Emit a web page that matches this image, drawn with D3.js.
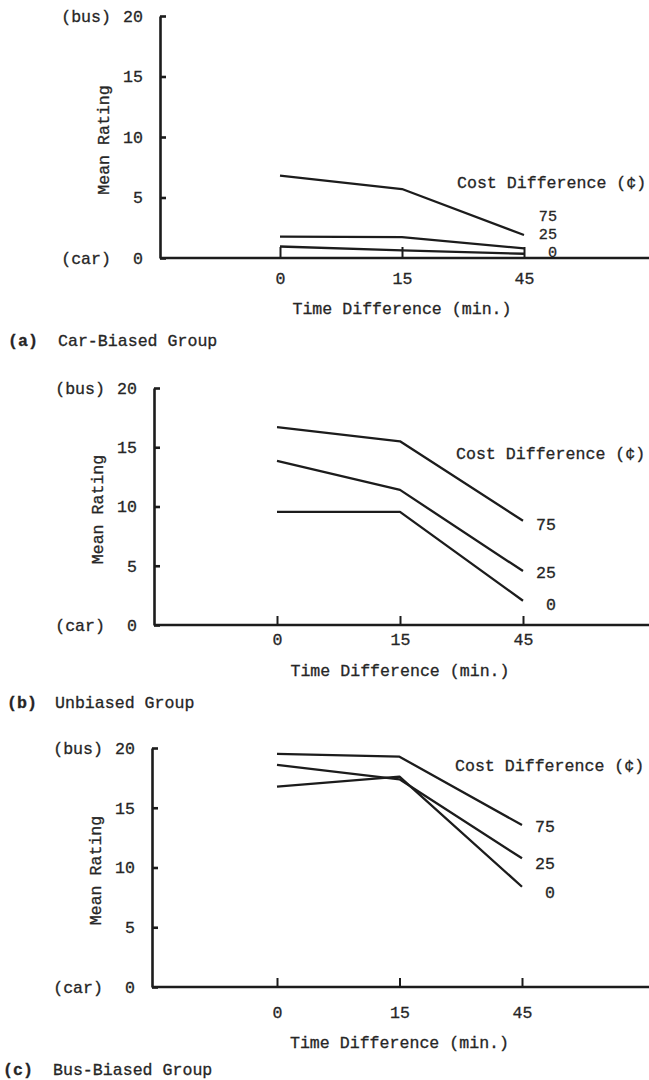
<!DOCTYPE html>
<html>
<head>
<meta charset="utf-8">
<script src="https://cdn.jsdelivr.net/npm/d3@7/dist/d3.min.js"></script>
<style>
  html, body { margin: 0; padding: 0; background: #fff; }
  svg { display: block; }
  text { font-family: "Liberation Mono", "Courier New", monospace; fill: #262626; stroke: #262626; stroke-width: 0.3px; }
</style>
</head>
<body>
<svg id="chart" width="649" height="1080"></svg>
<script>
// ---- data ----
const timeCategories = ["0", "15", "45"];
const costLevels = ["75", "25", "0"];
const yTicks = [0, 5, 10, 15, 20];

const carBiased75 = [6.8, 5.7, 1.9];
const carBiased25 = [1.76, 1.72, 0.8];
const carBiased0  = [0.95, 0.63, 0.35];

const unbiased75 = [16.7, 15.5, 8.8];
const unbiased25 = [13.85, 11.4, 4.55];
const unbiased0  = [9.55, 9.55, 2.05];

const busBiased75 = [19.5, 19.27, 13.55];
const busBiased25 = [18.58, 17.38, 10.77];
const busBiased0  = [16.76, 17.6, 8.39];

const panelLetters = ["(a)", "(b)", "(c)"];
const panelTitles = ["Car-Biased Group", "Unbiased Group", "Bus-Biased Group"];
const yAxisTitle = "Mean Rating";
const xAxisTitle = "Time Difference (min.)";
const legendTitle = "Cost Difference (\u00a2)";
const yEndLabels = ["(bus)", "(car)"];

// ---- layout (positions / styles only) ----
const W = 649;
const panels = [
  { series: [carBiased75, carBiased25, carBiased0], labelVals: [3.5, 1.98, 0.5], labelFS: 15.2, legendVal: 6.28,
    axisX: 160, y0: 258, y20: 16, x0: 280, x45: 524, tickLen: 11, xLabDy: 20, xTitleDy: 50, titleY: 340, letterX: 8, titleX: 58 },
  { series: [unbiased75, unbiased25, unbiased0], labelVals: [8.5, 4.45, 1.77], labelFS: 16.6, legendVal: 14.5,
    axisX: 154, y0: 625, y20: 388, x0: 277, x45: 523, tickLen: 9, xLabDy: 14, xTitleDy: 45, titleY: 702, letterX: 7, titleX: 55 },
  { series: [busBiased75, busBiased25, busBiased0], labelVals: [13.47, 10.38, 7.95], labelFS: 16.6, legendVal: 18.6,
    axisX: 152, y0: 987, y20: 748, x0: 277, x45: 522, tickLen: 9, xLabDy: 25, xTitleDy: 55, titleY: 1069, letterX: 3, titleX: 53 }
];

const FS = 16.6;
const ink = "#1c1c1c";
const svg = d3.select("#chart");

panels.forEach((p, i) => {
  const g = svg.append("g");
  const y = d3.scaleLinear().domain([0, 20]).range([p.y0, p.y20]);
  const x = d3.scalePoint().domain(timeCategories).range([p.x0, p.x45]);

  // y axis (ticks pointing inward)
  const yAx = g.append("g")
    .attr("transform", `translate(${p.axisX},0)`)
    .call(d3.axisLeft(y).tickValues(yTicks).tickSize(-6).tickSizeOuter(0).tickPadding(17).tickFormat(d3.format("d")));
  yAx.select(".domain").attr("stroke", ink).attr("stroke-width", 2.6);
  yAx.selectAll(".tick line").attr("stroke", ink).attr("stroke-width", 2.6);
  yAx.selectAll(".tick text").attr("font-size", FS).attr("font-family", "Liberation Mono").attr("fill", "#262626");

  // x baseline
  g.append("line")
    .attr("x1", p.axisX).attr("x2", W)
    .attr("y1", y(0)).attr("y2", y(0))
    .attr("stroke", ink).attr("stroke-width", 2.4);

  // x axis ticks (pointing upward)
  const xAx = g.append("g")
    .attr("transform", `translate(0,${y(0)})`)
    .call(d3.axisBottom(x).tickSize(-p.tickLen).tickSizeOuter(0));
  xAx.select(".domain").remove();
  xAx.selectAll(".tick line").attr("stroke", ink).attr("stroke-width", 2);
  xAx.selectAll(".tick text")
    .attr("font-size", FS).attr("font-family", "Liberation Mono").attr("fill", "#262626")
    .attr("y", p.xLabDy).attr("dy", "0.35em");

  // end labels (bus)/(car)
  g.append("text").attr("x", p.axisX - 49).attr("y", y(20)).attr("dy", "0.35em")
    .attr("text-anchor", "end").attr("font-size", FS).text(yEndLabels[0]);
  g.append("text").attr("x", p.axisX - 49).attr("y", y(0)).attr("dy", "0.35em")
    .attr("text-anchor", "end").attr("font-size", FS).text(yEndLabels[1]);

  // y title
  const ytx = p.axisX - 57, yty = (y(0) + y(20)) / 2 + 3;
  g.append("text").attr("transform", `translate(${ytx},${yty}) rotate(-90)`)
    .attr("text-anchor", "middle").attr("dy", "0.35em").attr("font-size", FS).text(yAxisTitle);

  // x title
  g.append("text").attr("x", x("15")).attr("y", y(0) + p.xTitleDy).attr("dy", "0.35em")
    .attr("text-anchor", "middle").attr("font-size", FS).text(xAxisTitle);

  // lines
  const line = d3.line().x((d, j) => x(timeCategories[j])).y(d => y(d));
  p.series.forEach(s => {
    g.append("path").datum(s).attr("d", line)
      .attr("fill", "none").attr("stroke", ink).attr("stroke-width", 2.3).attr("stroke-linejoin", "round");
  });

  // legend title and level labels
  g.append("text").attr("x", x("45") - 67).attr("y", y(p.legendVal)).attr("dy", "0.35em")
    .attr("font-size", FS).text(legendTitle);
  costLevels.forEach((c, k) => {
    g.append("text").attr("x", x("45") + 33).attr("y", y(p.labelVals[k])).attr("dy", "0.35em")
      .attr("text-anchor", "end").attr("font-size", p.labelFS).text(c);
  });

  // panel caption
  g.append("text").attr("x", p.letterX).attr("y", p.titleY).attr("dy", "0.35em")
    .attr("font-size", FS).attr("font-weight", "bold").text(panelLetters[i]);
  g.append("text").attr("x", p.titleX).attr("y", p.titleY).attr("dy", "0.35em")
    .attr("font-size", FS).text(panelTitles[i]);
});
</script>
</body>
</html>
